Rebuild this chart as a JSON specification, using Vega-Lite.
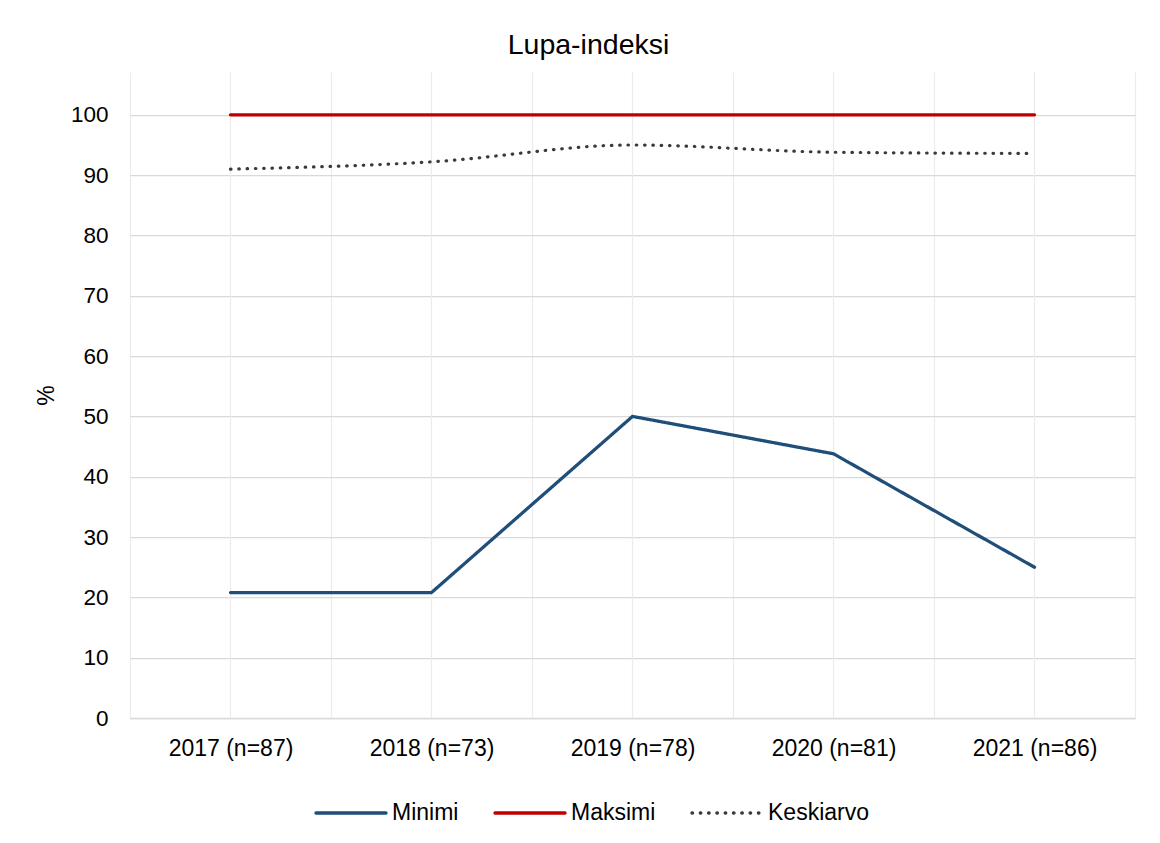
{
  "$schema": "https://vega.github.io/schema/vega-lite/v6.json",
  "width": 1005,
  "height": 646,
  "autosize": "none",
  "padding": {"left": 130, "top": 72, "right": 25, "bottom": 125},
  "background": "white",
  "config": {"font": "Liberation Sans", "view": {"stroke": null}},
  "title": {"text": "Lupa-indeksi", "fontSize": 28.5, "fontWeight": "normal", "color": "#000000", "anchor": "middle", "dx": -44, "dy": 29, "offset": 18, "baseline": "alphabetic"},
  "datasets": {
    "years": [
      {"year": "2017 (n=87)"},
      {"year": "2018 (n=73)"},
      {"year": "2019 (n=78)"},
      {"year": "2020 (n=81)"},
      {"year": "2021 (n=86)"}
    ],
    "values": [
      {"year": "2017 (n=87)", "series": "Minimi", "value": 20.8},
      {"year": "2018 (n=73)", "series": "Minimi", "value": 20.8},
      {"year": "2019 (n=78)", "series": "Minimi", "value": 50},
      {"year": "2020 (n=81)", "series": "Minimi", "value": 43.8},
      {"year": "2021 (n=86)", "series": "Minimi", "value": 25},
      {"year": "2017 (n=87)", "series": "Maksimi", "value": 100},
      {"year": "2018 (n=73)", "series": "Maksimi", "value": 100},
      {"year": "2019 (n=78)", "series": "Maksimi", "value": 100},
      {"year": "2020 (n=81)", "series": "Maksimi", "value": 100},
      {"year": "2021 (n=86)", "series": "Maksimi", "value": 100},
      {"year": "2017 (n=87)", "series": "Keskiarvo", "value": 91.0},
      {"year": "2018 (n=73)", "series": "Keskiarvo", "value": 92.2},
      {"year": "2019 (n=78)", "series": "Keskiarvo", "value": 95.0},
      {"year": "2020 (n=81)", "series": "Keskiarvo", "value": 93.8},
      {"year": "2021 (n=86)", "series": "Keskiarvo", "value": 93.6}
    ]
  },
  "encoding": {
    "x": {
      "field": "year",
      "type": "nominal",
      "sort": null,
      "scale": {"type": "band", "paddingInner": 0, "paddingOuter": 0},
      "axis": {
        "title": null,
        "grid": true,
        "tickBand": "extent",
        "gridColor": "#ececec",
        "gridWidth": 1.25,
        "ticks": false,
        "domainColor": "#d9d9d9",
        "domainWidth": 1.5,
        "labelFontSize": 23,
        "labelColor": "#000000",
        "labelPadding": 19,
        "labelAngle": 0
      }
    }
  },
  "layer": [
    {
      "data": {"name": "years"},
      "mark": {"type": "rule", "color": "#ececec", "strokeWidth": 1.25},
      "encoding": {}
    },
    {
      "data": {"name": "values"},
      "transform": [{"filter": "datum.series !== 'Keskiarvo'"}],
      "mark": {"type": "line", "strokeWidth": 3.25, "strokeCap": "round", "interpolate": "linear"},
      "encoding": {
        "y": {
          "field": "value",
          "type": "quantitative",
          "scale": {"domain": [0, 107.1], "nice": false, "zero": true},
          "axis": {
            "title": "%",
            "values": [0, 10, 20, 30, 40, 50, 60, 70, 80, 90, 100],
            "grid": true,
            "gridColor": "#d9d9d9",
            "gridWidth": 1.25,
            "domain": false,
            "ticks": false,
            "labelFontSize": 22.5,
            "labelColor": "#000000",
            "labelPadding": 22,
            "titleFontSize": 23,
            "titleFontWeight": "normal",
            "titleColor": "#000000",
            "titleX": -84,
            "titleY": 323,
            "titleAngle": -90,
            "titleAlign": "center",
            "titleBaseline": "middle"
          }
        },
        "color": {
          "field": "series",
          "type": "nominal",
          "scale": {"domain": ["Minimi", "Maksimi", "Keskiarvo"], "range": ["#1f4e79", "#c00000", "#3a3a3a"]},
          "legend": {
            "orient": "none", "direction": "horizontal", "legendX": 184, "legendY": 704, "title": null,
            "symbolType": "stroke", "symbolSize": 4900, "symbolStrokeWidth": 3.4,
            "labelFontSize": 23, "labelOffset": 4, "columnPadding": 29, "labelColor": "#000000",
            "encode": {"symbols": {"update": {"strokeCap": {"value": "round"}}}}
          }
        },
        "strokeDash": {
          "field": "series",
          "type": "nominal",
          "scale": {"domain": ["Minimi", "Maksimi", "Keskiarvo"], "range": [[1, 0], [1, 0], [0.5, 7.8]]},
          "legend": {
            "orient": "none", "direction": "horizontal", "legendX": 184, "legendY": 704, "title": null,
            "symbolType": "stroke", "symbolSize": 4900, "symbolStrokeWidth": 3.4,
            "labelFontSize": 23, "labelOffset": 4, "columnPadding": 29, "labelColor": "#000000",
            "encode": {"symbols": {"update": {"strokeCap": {"value": "round"}}}}
          }
        }
      }
    },
    {
      "data": {"name": "values"},
      "transform": [{"filter": "datum.series === 'Keskiarvo'"}],
      "mark": {"type": "line", "strokeWidth": 3.2, "strokeCap": "round", "interpolate": "monotone"},
      "encoding": {
        "y": {"field": "value", "type": "quantitative"},
        "color": {"field": "series", "type": "nominal"},
        "strokeDash": {"field": "series", "type": "nominal"}
      }
    }
  ]
}
